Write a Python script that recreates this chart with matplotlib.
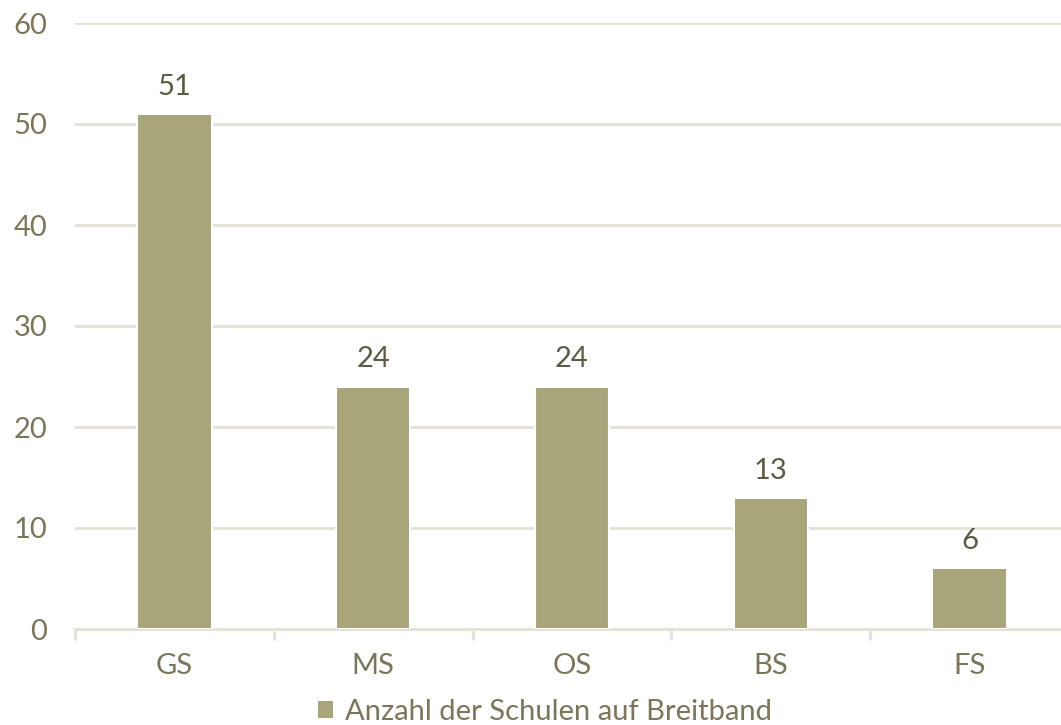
import matplotlib
matplotlib.use("Agg")
import matplotlib.pyplot as plt
import numpy as np
from matplotlib.patches import Patch

categories = ["GS", "MS", "OS", "BS", "FS"]
values = [51, 24, 24, 13, 6]
series_name = "Anzahl der Schulen auf Breitband"
yticks = [0, 10, 20, 30, 40, 50, 60]

bar_color = "#A8A57B"
text_color = "#7B7559"
label_color = "#5E5944"
grid_color = "#E4E1D6"

plt.rcParams['font.family'] = ['Lato', 'DejaVu Sans']

fig = plt.figure(figsize=(10.61, 7.25), dpi=100)
ax = fig.add_axes([75/1061, 96/725, (1069-75)/1061, (629-23)/725])

x = np.arange(len(categories))
bars = ax.bar(x, values, width=0.375, color=bar_color, edgecolor="white", linewidth=1.5, zorder=3)

for xi, v in zip(x, values):
    ax.text(xi, v + 1.4, str(v), ha="center", va="bottom", fontsize=21, color=label_color)

ax.set_xlim(-0.5, len(categories) - 0.5)
ax.set_ylim(0, 60)
ax.set_yticks(yticks)
ax.set_yticklabels([str(t) for t in yticks], fontsize=21, color=text_color)
ax.tick_params(axis="y", length=0, pad=20)
ax.yaxis.grid(True, color=grid_color, linewidth=2, zorder=0)
ax.set_axisbelow(True)

ax.set_xticks(x)
ax.set_xticklabels(categories, fontsize=21, color=text_color)
ax.tick_params(axis="x", which="major", length=0, pad=17)
ax.set_xticks(np.arange(-0.5, len(categories)), minor=True)
ax.tick_params(axis="x", which="minor", length=8, width=2, color=grid_color)

for s in ["top", "right", "left"]:
    ax.spines[s].set_visible(False)
ax.spines["bottom"].set_color(grid_color)
ax.spines["bottom"].set_linewidth(2)

handle = Patch(facecolor=bar_color, edgecolor="none")
fig.legend([handle], [series_name], loc="center", bbox_to_anchor=(545/1061, 1 - 712/725),
           frameon=False, fontsize=21, labelcolor=text_color, handlelength=0.5,
           handleheight=0.5, handletextpad=0.4)

fig.savefig("out.png", dpi=100)
